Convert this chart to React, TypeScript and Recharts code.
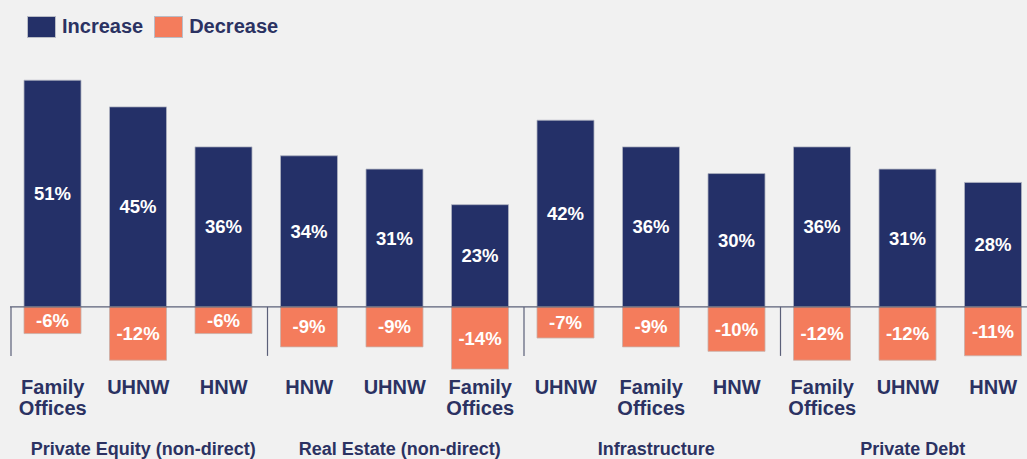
import * as React from "react";
import { Bar, BarChart, LabelList, ReferenceLine, XAxis, YAxis } from "recharts";

// 投資意向の増減（アセットクラス × 投資家区分）
const CATEGORIES = [
  "Family Offices",
  "UHNW",
  "HNW",
  "HNW",
  "UHNW",
  "Family Offices",
  "UHNW",
  "Family Offices",
  "HNW",
  "Family Offices",
  "UHNW",
  "HNW",
];
const INCREASE = [51, 45, 36, 34, 31, 23, 42, 36, 30, 36, 31, 28];
const DECREASE = [-6, -12, -6, -9, -9, -14, -7, -9, -10, -12, -12, -11];
const GROUPS = ["Private Equity (non-direct)", "Real Estate (non-direct)", "Infrastructure", "Private Debt"];
const GROUP_SIZE = 3;

const NAVY = "#243068";
const SALMON = "#f47c5c";
const TEXT = "#2b3262";
const BG = "#f1f1f1";
const FONT = "'Liberation Sans', Arial, sans-serif";

const CHART_W = 1046;
const CHART_H = 459;
const MARGIN = { top: 58, right: 10, bottom: 1, left: 10 };
const DOMAIN: [number, number] = [-16, 56];
const AXIS_H = 80;
const SLOT = (CHART_W - MARGIN.left - MARGIN.right) / CATEGORIES.length;
const PLOT_H = CHART_H - MARGIN.top - MARGIN.bottom - AXIS_H;
const ZERO_Y = MARGIN.top + (PLOT_H * DOMAIN[1]) / (DOMAIN[1] - DOMAIN[0]);

const rows = CATEGORIES.map((_, i) => ({ id: String(i), increase: INCREASE[i], decrease: DECREASE[i] }));

function CategoryTick(props: any) {
  const { x, index } = props;
  const words = CATEGORIES[index].split(" ");
  const pos = index % GROUP_SIZE;
  return (
    <g fontFamily={FONT} fontWeight="bold" fill={TEXT}>
      {pos === 0 ? (
        <line x1={x - SLOT / 2 + 1} x2={x - SLOT / 2 + 1} y1={ZERO_Y} y2={ZERO_Y + 49} stroke="#5b6079" strokeWidth={1.2} />
      ) : null}
      {words.map((w, j) => (
        <text key={j} x={x} y={394 + j * 21} textAnchor="middle" fontSize={20}>
          {w}
        </text>
      ))}
      {pos === 1 ? (
        <text x={x + 5} y={455} textAnchor="middle" fontSize={18}>
          {GROUPS[Math.floor(index / GROUP_SIZE)]}
        </text>
      ) : null}
    </g>
  );
}

function LegendItem({ color, label }: { color: string; label: string }) {
  return (
    <div style={{ display: "flex", alignItems: "center", marginRight: 11 }}>
      <div style={{ width: 29, height: 22, background: color, border: "1px solid #b9bcc6", boxSizing: "border-box" }} />
      <span style={{ marginLeft: 6, fontSize: 20, fontWeight: "bold", color: TEXT }}>{label}</span>
    </div>
  );
}

const pct = (v: any) => `${v}%`;

export default function App() {
  return (
    <div
      style={{
        position: "fixed",
        left: 0,
        top: 0,
        width: 1027,
        height: 459,
        overflow: "hidden",
        background: BG,
        fontFamily: FONT,
      }}
    >
      <div style={{ position: "absolute", left: 27, top: 15, display: "flex" }}>
        <LegendItem color={NAVY} label="Increase" />
        <LegendItem color={SALMON} label="Decrease" />
      </div>
      <BarChart width={CHART_W} height={CHART_H} data={rows} margin={MARGIN} stackOffset="sign">
        <XAxis
          dataKey="id"
          height={AXIS_H}
          axisLine={false}
          tickLine={false}
          tickSize={0}
          tickMargin={0}
          interval={0}
          tick={<CategoryTick />}
        />
        <YAxis hide domain={DOMAIN} />
        <Bar dataKey="increase" stackId="s" fill={NAVY} stroke="#aeb2c0" strokeWidth={0.8} barSize={57} isAnimationActive={false}>
          <LabelList dataKey="increase" position="center" formatter={pct} fill="#fff" fontSize={18.5} fontWeight="bold" fontFamily={FONT} />
        </Bar>
        <Bar dataKey="decrease" stackId="s" fill={SALMON} stroke="#c9b0a8" strokeWidth={0.8} barSize={57} isAnimationActive={false}>
          <LabelList dataKey="decrease" position="center" formatter={pct} fill="#fff" fontSize={18.5} fontWeight="bold" fontFamily={FONT} />
        </Bar>
        <ReferenceLine y={0} stroke="#5b6079" strokeWidth={1.2} />
      </BarChart>
    </div>
  );
}
